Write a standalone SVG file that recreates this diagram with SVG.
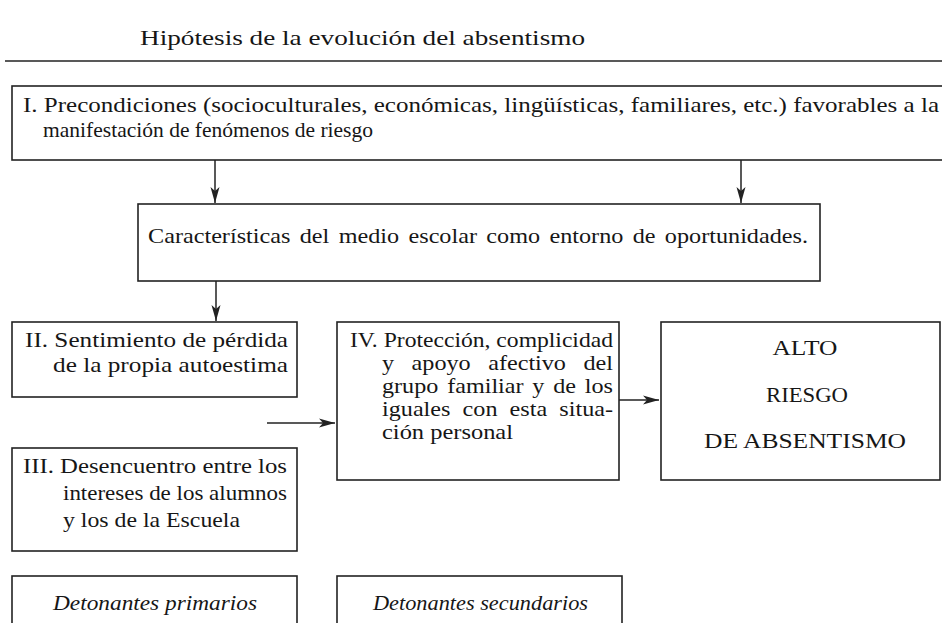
<svg xmlns="http://www.w3.org/2000/svg" width="942" height="623" viewBox="0 0 942 623">
<defs>
<style>
.t{font-family:"Liberation Serif","Times New Roman",serif;font-size:22px;fill:#161616}
.s{font-size:21px}
.i{font-style:italic}
.b{fill:#fff;stroke:#222;stroke-width:1.6}
.c{stroke:#222;stroke-width:1.5;fill:none}
</style>
<marker id="ah" viewBox="0 0 16 10" refX="16" refY="5" markerWidth="16" markerHeight="10" markerUnits="userSpaceOnUse" orient="auto">
<path d="M0,0.5 L16,5 L0,9.5 L4,5 Z" fill="#222"/>
</marker>
</defs>
<rect width="942" height="623" fill="#fff"/>
<text class="t" x="140" y="45" font-size="24" textLength="445" lengthAdjust="spacingAndGlyphs">Hipótesis de la evolución del absentismo</text>
<line x1="5" y1="61" x2="942" y2="61" stroke="#222" stroke-width="1.6"/>

<g id="n1">
<rect class="b" x="12" y="86" width="940" height="74"/>
<text class="t" x="23" y="112" textLength="916" lengthAdjust="spacingAndGlyphs">I. Precondiciones (socioculturales, económicas, lingüísticas, familiares, etc.) favorables a la</text>
<text class="t" x="43" y="137" textLength="330" lengthAdjust="spacingAndGlyphs">manifestación de fenómenos de riesgo</text>
</g>
<g id="n2">
<rect class="b" x="138" y="204" width="682" height="77"/>
<text class="t" x="148" y="243" word-spacing="3" textLength="660" lengthAdjust="spacingAndGlyphs">Características del medio escolar como entorno de oportunidades.</text>
</g>
<g id="n3">
<rect class="b" x="12" y="322" width="285" height="75"/>
<text class="t" x="25" y="347" textLength="263" lengthAdjust="spacingAndGlyphs">II. Sentimiento de pérdida</text>
<text class="t" x="53" y="372" textLength="235" lengthAdjust="spacingAndGlyphs">de la propia autoestima</text>
</g>
<g id="n4">
<rect class="b" x="12" y="448" width="285" height="103"/>
<text class="t" x="23" y="473" textLength="264" lengthAdjust="spacingAndGlyphs">III. Desencuentro entre los</text>
<text class="t" x="63" y="500" textLength="224" lengthAdjust="spacingAndGlyphs">intereses de los alumnos</text>
<text class="t" x="63" y="527" textLength="177" lengthAdjust="spacingAndGlyphs">y los de la Escuela</text>
</g>
<g id="n5">
<rect class="b" x="337" y="322" width="282" height="158"/>
<text class="t s" x="350" y="347" textLength="263" lengthAdjust="spacingAndGlyphs">IV. Protección, complicidad</text>
<text class="t s" x="382" y="370" word-spacing="10" textLength="231" lengthAdjust="spacingAndGlyphs">y apoyo afectivo del</text>
<text class="t s" x="382" y="393" word-spacing="2.4" textLength="231" lengthAdjust="spacingAndGlyphs">grupo familiar y de los</text>
<text class="t s" x="382" y="416" word-spacing="5.3" textLength="231" lengthAdjust="spacingAndGlyphs">iguales con esta situa-</text>
<text class="t s" x="382" y="439" textLength="131" lengthAdjust="spacingAndGlyphs">ción personal</text>
</g>
<g id="n6">
<rect class="b" x="661" y="322" width="279" height="158"/>
<text class="t" x="805" y="355" text-anchor="middle" font-size="24" textLength="65" lengthAdjust="spacingAndGlyphs">ALTO</text>
<text class="t" x="807" y="402" text-anchor="middle" font-size="24" textLength="82" lengthAdjust="spacingAndGlyphs">RIESGO</text>
<text class="t" x="805" y="448" text-anchor="middle" font-size="24" textLength="202" lengthAdjust="spacingAndGlyphs">DE ABSENTISMO</text>
</g>
<g id="n7">
<rect class="b" x="12" y="576" width="285" height="60"/>
<text class="t i" x="53" y="610" textLength="204" lengthAdjust="spacingAndGlyphs">Detonantes primarios</text>
</g>
<g id="n8">
<rect class="b" x="337" y="576" width="285" height="60"/>
<text class="t i" x="373" y="610" textLength="215" lengthAdjust="spacingAndGlyphs">Detonantes secundarios</text>
</g>

<g id="connectors">
<line class="c" x1="215" y1="160" x2="215" y2="203" marker-end="url(#ah)"/>
<line class="c" x1="741" y1="160" x2="741" y2="203" marker-end="url(#ah)"/>
<line class="c" x1="216" y1="281" x2="216" y2="321" marker-end="url(#ah)"/>
<line class="c" x1="267" y1="423" x2="335" y2="423" marker-end="url(#ah)"/>
<line class="c" x1="619" y1="400" x2="659" y2="400" marker-end="url(#ah)"/>
</g>
</svg>
